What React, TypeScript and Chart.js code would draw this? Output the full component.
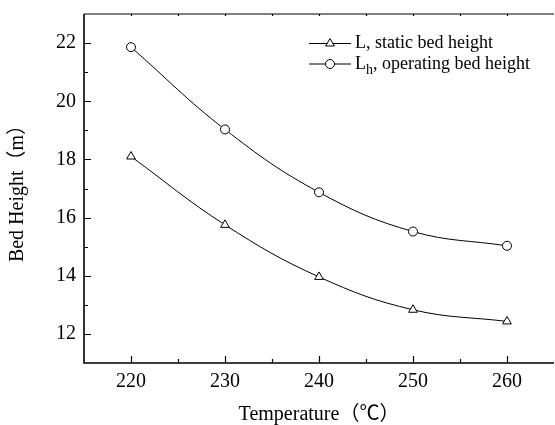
import React, { useEffect, useRef } from "react";
import { Chart, registerables } from "chart.js";

Chart.register(...registerables);

const temperatures = [220, 230, 240, 250, 260];
const staticHeight = [18.1, 15.75, 13.96, 12.83, 12.43];
const operatingHeight = [21.86, 19.03, 16.87, 15.52, 15.03];
const xMajorTicks = [220, 230, 240, 250, 260];
const xMinorTicks = [225, 235, 245, 255];
const yMajorTicks = [12, 14, 16, 18, 20, 22];
const yMinorTicks = [13, 15, 17, 19, 21];
const legendLabels = ["L", "h"];

const SERIF = "'Liberation Serif', 'Noto Sans CJK SC', serif";

const framePlugin = {
  id: "frame",
  afterDraw(chart: any) {
    const { ctx, chartArea } = chart;
    const { left, right, top, bottom } = chartArea;
    const xs = chart.scales.x;
    const ys = chart.scales.y;
    ctx.save();
    ctx.strokeStyle = "#000";
    ctx.lineCap = "butt";
    ctx.lineWidth = 1.6;
    ctx.beginPath();
    ctx.moveTo(left, top);
    ctx.lineTo(left, bottom);
    ctx.lineTo(right, bottom);
    ctx.stroke();
    ctx.lineWidth = 1.2;
    ctx.beginPath();
    ctx.moveTo(left, top);
    ctx.lineTo(right, top);
    ctx.stroke();
    ctx.lineWidth = 1.2;
    ctx.beginPath();
    yMajorTicks.forEach((v) => {
      const p = Math.round(ys.getPixelForValue(v)) + 0.5;
      ctx.moveTo(left, p);
      ctx.lineTo(left + 7, p);
    });
    yMinorTicks.forEach((v) => {
      const p = Math.round(ys.getPixelForValue(v)) + 0.5;
      ctx.moveTo(left, p);
      ctx.lineTo(left + 4, p);
    });
    xMajorTicks.forEach((v) => {
      const p = Math.round(xs.getPixelForValue(v)) + 0.5;
      ctx.moveTo(p, bottom);
      ctx.lineTo(p, bottom - 7);
      ctx.moveTo(p, top);
      ctx.lineTo(p, top + 2);
    });
    xMinorTicks.forEach((v) => {
      const p = Math.round(xs.getPixelForValue(v)) + 0.5;
      ctx.moveTo(p, bottom);
      ctx.lineTo(p, bottom - 4);
      ctx.moveTo(p, top);
      ctx.lineTo(p, top + 2);
    });
    ctx.stroke();

    const lx = 309;
    const rows = [top + 29.5, top + 50];
    ctx.lineWidth = 1;
    ctx.fillStyle = "#000";
    rows.forEach((ry, i) => {
      ctx.beginPath();
      ctx.moveTo(lx, ry);
      ctx.lineTo(lx + 42, ry);
      ctx.stroke();
      const cx = lx + 21;
      ctx.beginPath();
      if (i === 0) {
        const r = 5;
        let rad = 0;
        ctx.moveTo(cx + Math.sin(rad) * r, ry - Math.cos(rad) * r);
        rad += (2 * Math.PI) / 3;
        ctx.lineTo(cx + Math.sin(rad) * r, ry - Math.cos(rad) * r);
        rad += (2 * Math.PI) / 3;
        ctx.lineTo(cx + Math.sin(rad) * r, ry - Math.cos(rad) * r);
        ctx.closePath();
      } else {
        ctx.arc(cx, ry, 4.5, 0, Math.PI * 2);
      }
      ctx.fillStyle = "#fff";
      ctx.fill();
      ctx.stroke();
      ctx.fillStyle = "#000";
      ctx.textBaseline = "middle";
      ctx.textAlign = "left";
      ctx.font = "18px " + SERIF;
      const tx = lx + 46;
      if (i === 0) {
        ctx.fillText(legendLabels[0] + ", static bed height", tx, ry);
      } else {
        ctx.fillText(legendLabels[0], tx, ry);
        const w1 = ctx.measureText(legendLabels[0]).width;
        ctx.font = "14px " + SERIF;
        ctx.fillText(legendLabels[1], tx + w1, ry + 6);
        const w2 = ctx.measureText(legendLabels[1]).width;
        ctx.font = "18px " + SERIF;
        ctx.fillText(", operating bed height", tx + w1 + w2, ry);
      }
    });
    ctx.restore();
  },
};

export default function App() {
  const ref = useRef<HTMLCanvasElement>(null);
  useEffect(() => {
    document.body.style.margin = "0";
    const canvas = ref.current!;
    const chart = new Chart(canvas, {
      type: "line",
      data: {
        labels: temperatures,
        datasets: [
          {
            label: "L, static bed height",
            data: temperatures.map((t, i) => ({ x: t, y: staticHeight[i] })),
            borderColor: "#000",
            borderWidth: 1,
            backgroundColor: "#fff",
            pointStyle: "triangle",
            pointRadius: 5,
            pointBorderWidth: 1,
            pointBackgroundColor: "#fff",
            pointBorderColor: "#000",
            tension: 0.4,
            fill: false,
          },
          {
            label: "Lh, operating bed height",
            data: temperatures.map((t, i) => ({ x: t, y: operatingHeight[i] })),
            borderColor: "#000",
            borderWidth: 1,
            backgroundColor: "#fff",
            pointStyle: "circle",
            pointRadius: 4.5,
            pointBorderWidth: 1,
            pointBackgroundColor: "#fff",
            pointBorderColor: "#000",
            tension: 0.4,
            fill: false,
          },
        ],
      },
      options: {
        animation: false,
        responsive: false,
        devicePixelRatio: 1,
        layout: { padding: { top: 14, right: 3, left: 0, bottom: 0 } },
        plugins: { legend: { display: false }, tooltip: { enabled: false } },
        scales: {
          x: {
            type: "linear",
            min: 215,
            max: 265,
            afterBuildTicks: (s: any) => {
              s.ticks = xMajorTicks.map((v) => ({ value: v }));
            },
            afterFit: (s: any) => {
              s.height = 62;
              s.paddingLeft = 0;
              s.paddingRight = 0;
              s.paddingTop = 0;
              s.paddingBottom = 0;
            },
            grid: { display: false, drawTicks: false },
            border: { display: false },
            ticks: {
              color: "#000",
              padding: 7,
              font: { family: SERIF, size: 20 },
              maxRotation: 0,
            },
            title: {
              display: true,
              text: "Temperature（℃）",
              color: "#000",
              font: { family: SERIF, size: 20, lineHeight: 1 },
              padding: { top: 0, bottom: 0 },
            },
          },
          y: {
            type: "linear",
            min: 11,
            max: 23,
            afterBuildTicks: (s: any) => {
              s.ticks = yMajorTicks.map((v) => ({ value: v }));
            },
            afterFit: (s: any) => {
              s.width = 84;
              s.paddingLeft = 0;
              s.paddingRight = 0;
              s.paddingTop = 0;
              s.paddingBottom = 0;
            },
            grid: { display: false, drawTicks: false },
            border: { display: false },
            ticks: {
              color: "#000",
              padding: 8,
              font: { family: SERIF, size: 20 },
            },
            title: {
              display: true,
              text: "Bed Height（m）",
              color: "#000",
              font: { family: SERIF, size: 20, lineHeight: 1 },
              padding: { top: 8, bottom: 0 },
            },
          },
        },
      },
      plugins: [framePlugin],
    });
    return () => chart.destroy();
  }, []);
  return (
    <div
      style={{
        position: "fixed",
        left: 0,
        top: 0,
        width: 555,
        height: 425,
        overflow: "hidden",
        background: "#fff",
      }}
    >
      <canvas ref={ref} width={560} height={425} style={{ display: "block", width: 560, height: 425 }} />
    </div>
  );
}
